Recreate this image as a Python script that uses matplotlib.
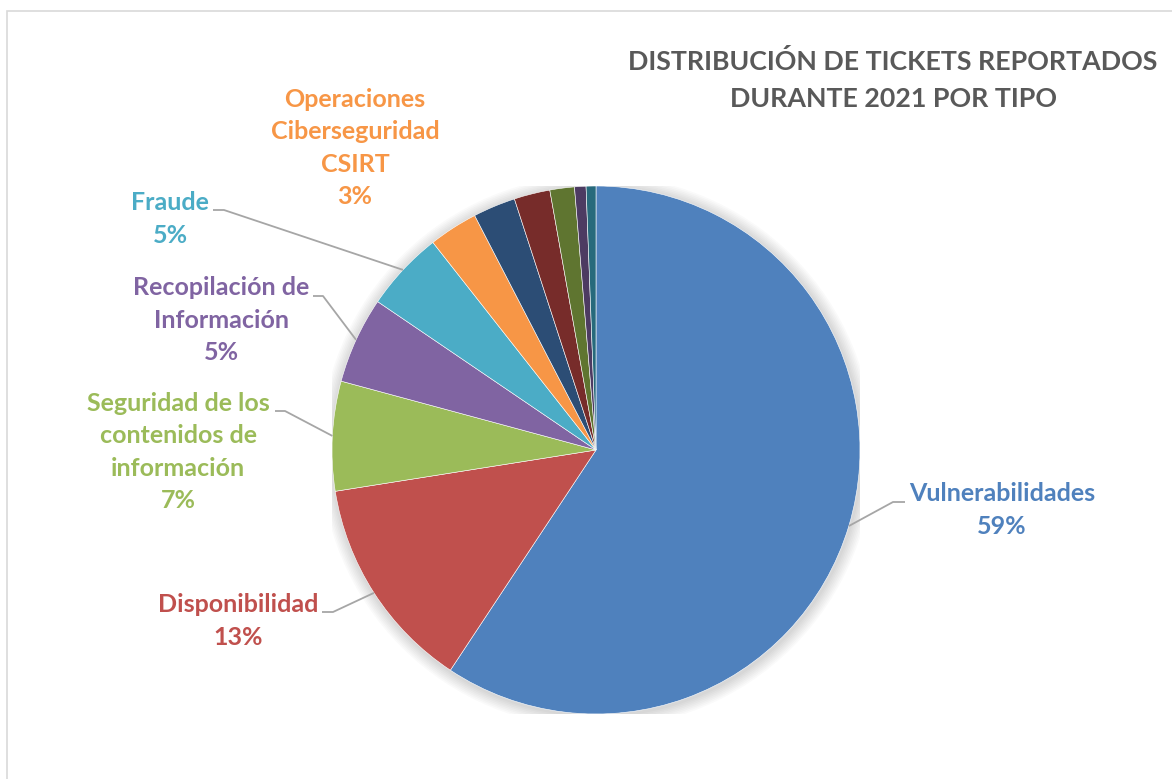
import numpy as np
import matplotlib.pyplot as plt
from matplotlib.patches import Circle, Rectangle

plt.rcParams['font.family'] = ['Lato', 'DejaVu Sans']

# datos
categorias = ['Vulnerabilidades', 'Disponibilidad',
              'Seguridad de los\ncontenidos de\ninformación',
              'Recopilación de\nInformación', 'Fraude',
              'Operaciones\nCiberseguridad\nCSIRT',
              '', '', '', '', '']
porcentajes = [59.3, 13.2, 6.7, 5.3, 4.9, 3.0, 2.6, 2.2, 1.5, 0.7, 0.6]
colores = ['#4F81BD', '#C0504D', '#9BBB59', '#8064A2', '#4BACC6', '#F79646',
           '#2C4D75', '#772C2A', '#5F7530', '#4D3B62', '#276A7C']

W, H = 1172, 779
cx, cy, R = 596, 450, 264

fig = plt.figure(figsize=(W / 100, H / 100), dpi=100)
fig.patches.append(Rectangle((7 / W, -0.01), 1.2, (H - 11) / H + 0.01,
                             transform=fig.transFigure, fill=False,
                             edgecolor='#D9D9D9', linewidth=1.2))

ax = fig.add_axes([(cx - R) / W, (H - cy - R) / H, 2 * R / W, 2 * R / H])

# sombra suave
for k in range(8, 0, -1):
    ax.add_patch(Circle((0.004, -0.006), 1 + k * 0.006, color='#000000',
                        alpha=0.018, zorder=0, linewidth=0))

wedges, _ = ax.pie(porcentajes, colors=colores, startangle=90, counterclock=False,
                   radius=1, wedgeprops=dict(edgecolor='white', linewidth=0.4))
for w in wedges:
    w.set_zorder(2)
ax.set_xlim(-1, 1)
ax.set_ylim(-1, 1)
ax.set_aspect('equal')
ax.axis('off')


def px(x, y):
    return (x - cx) / R, (cy - y) / R


# posición de etiquetas: centro del texto, fin del tramo horizontal, codo
pos = {
    0: ((1002, 510), (905, 502), (893, 502)),
    1: ((238, 621), (322, 612), (333, 612)),
    2: ((178, 452), (275, 411), (285, 411)),
    3: ((221, 320), (313, 296), (323, 296)),
    4: ((170, 219), (213, 210), (224, 210)),
    5: ((355, 148), None, None),
}

for i, (cat, val, col) in enumerate(zip(categorias, porcentajes, colores)):
    if not cat:
        continue
    (tx, ty), stub, elbow = pos[i]
    ax.text(*px(tx, ty), cat + '\n' + f'{round(val)}%', color=col,
            fontsize=18, fontweight='bold', ha='center', va='center',
            multialignment='center', linespacing=1.5, zorder=5)
    if stub is not None:
        w = wedges[i]
        ang = np.deg2rad((w.theta1 + w.theta2) / 2)
        x0, y0 = np.cos(ang), np.sin(ang)
        ex, ey = px(*elbow)
        sx, sy = px(*stub)
        ax.plot([x0, ex, sx], [y0, ey, sy], color='#A6A6A6', linewidth=1.3,
                zorder=4, clip_on=False, solid_capstyle='butt')

fig.text(893 / W, 1 - 80 / H, 'DISTRIBUCIÓN DE TICKETS REPORTADOS\nDURANTE 2021 POR TIPO',
         color='#595959', fontsize=19.3, fontweight='bold', ha='center', va='center',
         linespacing=1.66)

fig.savefig('out.png', dpi=100)
